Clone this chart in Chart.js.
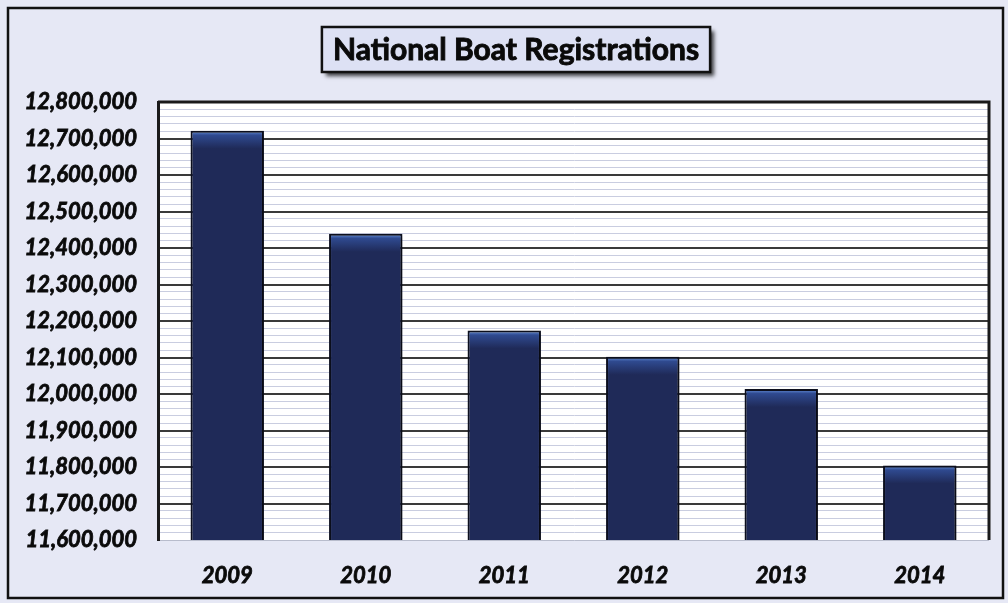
<!DOCTYPE html>
<html>
<head>
<meta charset="utf-8">
<title>National Boat Registrations</title>
<script src="https://cdn.jsdelivr.net/npm/chart.js@4.4.1/dist/chart.umd.min.js"></script>
<style>
  html, body { margin: 0; padding: 0; background: #e5e7f4; }
  canvas { display: block; }
</style>
</head>
<body>
<canvas id="boatChart" width="1008" height="603"></canvas>
<script>
// registros anuales de embarcaciones
const years = ["2009", "2010", "2011", "2012", "2013", "2014"];
const registrations = [12721541, 12438926, 12173935, 12101936, 12013496, 11804262];
const yMin = 11600000;
const yMax = 12800000;
const chartTitle = "National Boat Registrations";

const fontFamily = "Lato, 'Open Sans', 'DejaVu Sans', sans-serif";

// fondo, marco exterior y area blanca del grafico
const fondoPlugin = {
    id: "fondo",
    beforeDraw(chart) {
        const { ctx, chartArea } = chart;
        ctx.save();
        ctx.fillStyle = "#e6e8f5";
        ctx.fillRect(0, 0, chart.width, chart.height);
        ctx.strokeStyle = "#111";
        ctx.lineWidth = 2.5;
        ctx.strokeRect(8, 8, 995, 590);
        ctx.fillStyle = "#ffffff";
        ctx.fillRect(chartArea.left, chartArea.top, chartArea.right - chartArea.left, chartArea.bottom - chartArea.top);
        ctx.restore();
    },
    afterDraw(chart) {
        const { ctx, chartArea } = chart;
        ctx.save();
        // borde derecho y superior del area
        ctx.strokeStyle = "#1a1a1a";
        ctx.lineWidth = 3;
        ctx.beginPath();
        ctx.moveTo(chartArea.left, chartArea.top);
        ctx.lineTo(chartArea.right, chartArea.top);
        ctx.lineTo(chartArea.right, chartArea.bottom);
        ctx.stroke();

        // caja del titulo con sombra
        ctx.font = "bold 30px " + fontFamily;
        const w = ctx.measureText(chartTitle).width;
        const cx = 516;
        const bx = cx - w / 2 - 11, by = 27, bw = w + 22, bh = 45;
        ctx.shadowColor = "rgba(0,0,0,0.75)";
        ctx.shadowBlur = 4;
        ctx.shadowOffsetX = 4;
        ctx.shadowOffsetY = 4;
        ctx.fillStyle = "#dde1f4";
        ctx.fillRect(bx, by, bw, bh);
        ctx.shadowColor = "transparent";
        ctx.strokeStyle = "#111";
        ctx.lineWidth = 2.5;
        ctx.strokeRect(bx, by, bw, bh);
        ctx.fillStyle = "#0a0a0a";
        ctx.strokeStyle = "#0a0a0a";
        ctx.lineWidth = 0.9;
        ctx.textAlign = "center";
        ctx.textBaseline = "middle";
        ctx.fillText(chartTitle, cx, by + bh / 2 + 1);
        ctx.strokeText(chartTitle, cx, by + bh / 2 + 1);
        ctx.restore();
    },
    beforeDatasetsDraw(chart) {
        const ctx = chart.ctx;
        ctx.save();
        ctx.shadowColor = "rgba(0,0,0,0.45)";
        ctx.shadowBlur = 4;
        ctx.shadowOffsetX = 2;
        ctx.shadowOffsetY = 2;
    },
    afterDatasetsDraw(chart) {
        chart.ctx.restore();
    }
};

new Chart(document.getElementById("boatChart"), {
    type: "bar",
    data: {
        labels: years,
        datasets: [{
            label: chartTitle,
            data: registrations,
            backgroundColor: (context) => {
                const chart = context.chart;
                const y = chart.scales.y;
                if (!y || context.raw === undefined) return "#1f2a58";
                const top = y.getPixelForValue(context.raw);
                if (!Number.isFinite(top)) return "#1f2a58";
                const g = chart.ctx.createLinearGradient(0, top, 0, top + 18);
                g.addColorStop(0, "#6a96e0");
                g.addColorStop(0.25, "#2f4a90");
                g.addColorStop(1, "#1f2a58");
                return g;
            },
            borderColor: "#0c0f1e",
            borderWidth: 2,
            categoryPercentage: 0.53,
            barPercentage: 1.0
        }]
    },
    options: {
        responsive: false,
        animation: false,
        layout: { padding: { top: 102, right: 19, left: 0, bottom: 0 } },
        plugins: {
            legend: { display: false },
            title: { display: false },
            tooltip: { enabled: false }
        },
        scales: {
            x: {
                grid: { display: false, drawTicks: false },
                border: { display: false },
                ticks: {
                    color: "#0a0a0a",
                    textStrokeColor: "#0a0a0a",
                    textStrokeWidth: 0.8,
                    padding: 23,
                    font: { family: fontFamily, size: 22, weight: "bold", style: "italic" }
                },
                afterFit(scale) { scale.height = 63; }
            },
            y: {
                min: yMin,
                max: yMax,
                border: { display: true, color: "#1a1a1a", width: 3 },
                grid: {
                    drawTicks: false,
                    color: (c) => {
                        const v = c.tick ? c.tick.value : 0;
                        if (v === yMin) return "#b8bccc";
                        return v % 100000 === 0 ? "#3a3a3a" : "#c9cde0";
                    },
                    lineWidth: (c) => {
                        const v = c.tick ? c.tick.value : 0;
                        return v % 100000 === 0 && v !== yMin ? 2 : 1;
                    }
                },
                ticks: {
                    stepSize: 20000,
                    autoSkip: false,
                    padding: 21,
                    color: "#0a0a0a",
                    textStrokeColor: "#0a0a0a",
                    textStrokeWidth: 0.8,
                    font: { family: fontFamily, size: 22, weight: "bold", style: "italic" },
                    callback: (v) => v % 100000 === 0 ? v.toLocaleString("en-US") : ""
                },
                afterFit(scale) { scale.width = 158; }
            }
        }
    },
    plugins: [fondoPlugin]
});
</script>
</body>
</html>
